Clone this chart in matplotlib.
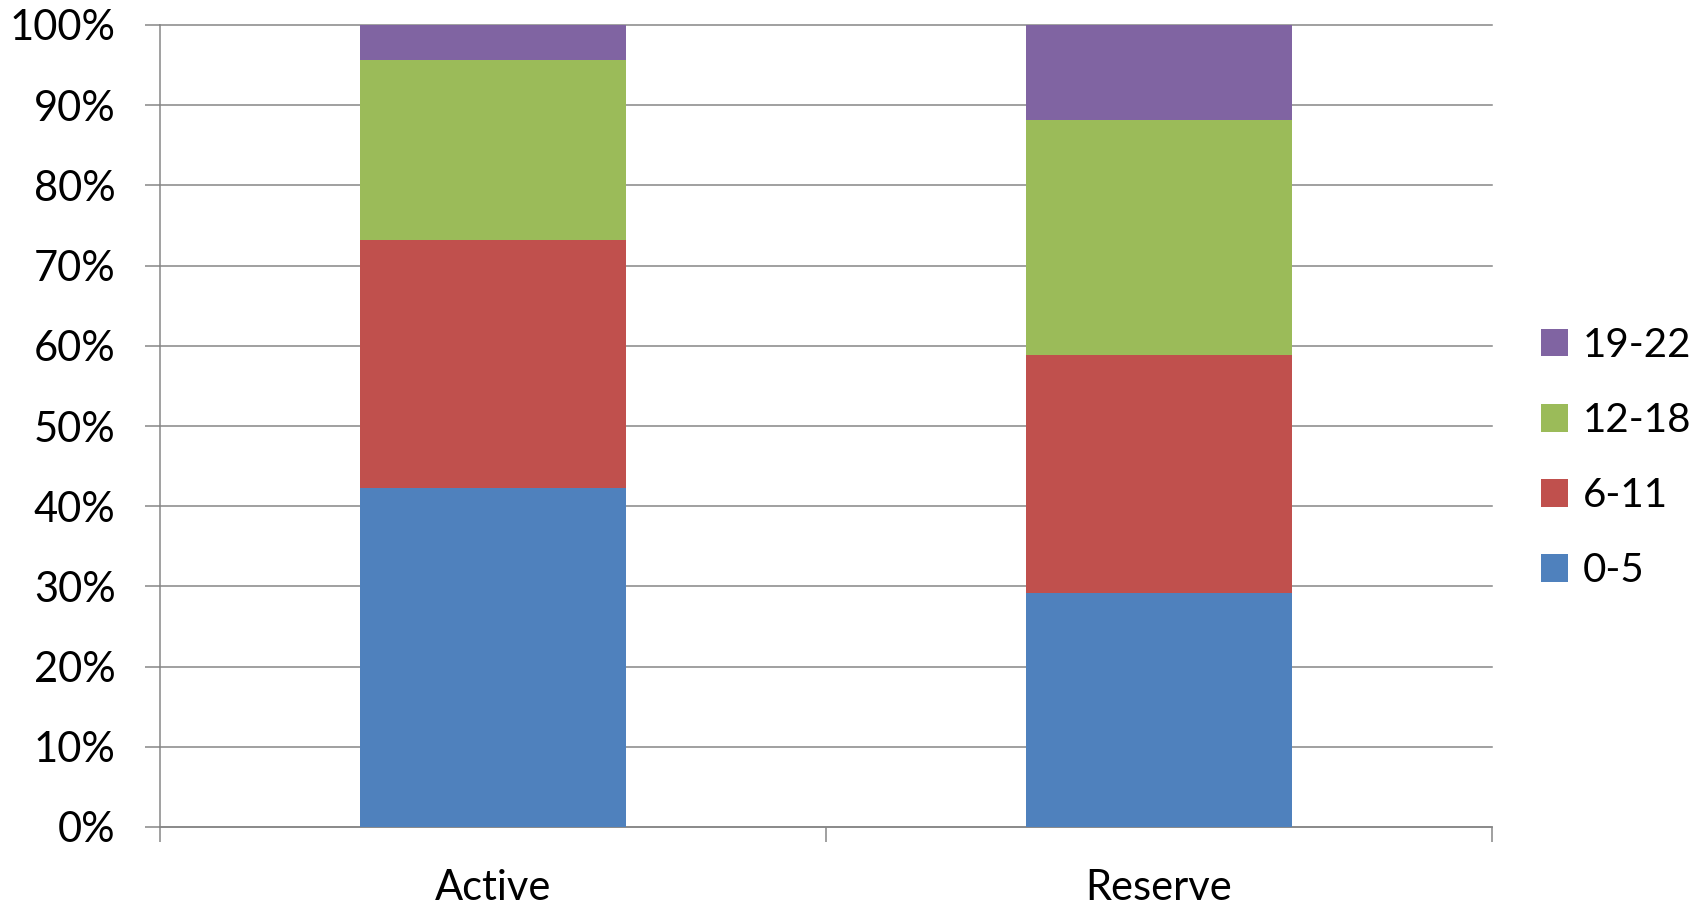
import matplotlib
matplotlib.use("Agg")
import matplotlib.pyplot as plt
from matplotlib.patches import Patch
from matplotlib.ticker import FixedLocator, PercentFormatter

categories = ["Active", "Reserve"]
series_names = ["0-5", "6-11", "12-18", "19-22"]
share_0_5 = [42.3, 29.2]
share_6_11 = [30.9, 29.7]
share_12_18 = [22.4, 29.2]
share_19_22 = [4.4, 11.9]
y_ticks = list(range(0, 101, 10))

colors = ["#4F81BD", "#C0504D", "#9BBB59", "#8064A2"]
grid_color = "#868686"

plt.rcParams["font.family"] = ["Lato", "DejaVu Sans"]

fig = plt.figure(figsize=(17.05, 9.08), dpi=100)
ax = fig.add_axes([160 / 1705, 1 - 827 / 908, (1492 - 160) / 1705, (827 - 25) / 908])

x = list(range(len(categories)))
bottom = [0.0] * len(categories)
for name, vals, col in zip(series_names,
                           [share_0_5, share_6_11, share_12_18, share_19_22],
                           colors):
    ax.bar(x, vals, width=0.4, bottom=bottom, color=col, edgecolor="none",
           zorder=3, label=name)
    bottom = [b + v for b, v in zip(bottom, vals)]

ax.set_xlim(-0.5, len(categories) - 0.5)
ax.set_ylim(0, 100)

# y axis: percentages with horizontal gridlines
ax.yaxis.set_major_locator(FixedLocator(y_ticks))
ax.yaxis.set_major_formatter(PercentFormatter(decimals=0))
for t in y_ticks:
    ax.axhline(t, color=grid_color, lw=1.1, zorder=1, clip_on=False)
ax.tick_params(axis="y", length=11, width=1.1, color=grid_color,
               labelsize=30, pad=21, labelcolor="black")

# x axis: boundary ticks, labels centred on the bars
ax.set_xticks([-0.5, 0.5, 1.5])
ax.set_xticklabels(["", "", ""])
ax.set_xticks(x, minor=True)
ax.set_xticklabels(categories, minor=True)
ax.tick_params(axis="x", which="major", length=11, width=1.1, color=grid_color)
ax.tick_params(axis="x", which="minor", length=0, labelsize=30, pad=30)

for side in ["top", "right"]:
    ax.spines[side].set_visible(False)
ax.spines["left"].set_color(grid_color)
ax.spines["left"].set_linewidth(1.1)
ax.spines["bottom"].set_color(grid_color)
ax.spines["bottom"].set_linewidth(1.1)

handles = [Patch(facecolor=c, edgecolor="none") for c in colors]
fig.legend(handles[::-1], series_names[::-1], loc="center left",
           bbox_to_anchor=(1541 / 1705, 1 - 458 / 908), frameon=False,
           fontsize=29, handlelength=0.68, handleheight=0.68,
           handletextpad=0.35, labelspacing=0.95, borderaxespad=0,
           borderpad=0)

fig.savefig("out.png", dpi=100, facecolor="white")
